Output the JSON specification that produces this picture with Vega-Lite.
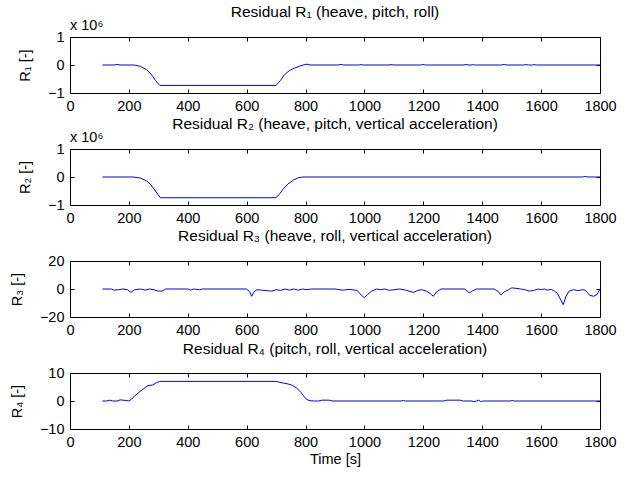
{
  "$schema": "https://vega.github.io/schema/vega-lite/v6.json",
  "padding": {"left": 8, "top": 4, "right": 5, "bottom": 5},
  "background": "white",
  "spacing": 56,
  "bounds": "flush",
  "config": {
    "font": "Liberation Sans",
    "view": {"stroke": "black", "strokeWidth": 1},
    "axis": {"grid": false, "domainColor": "black", "tickColor": "black", "labelColor": "black", "titleColor": "black", "labelFont": "Liberation Sans", "titleFont": "Liberation Sans", "labelFontSize": 14.5, "titleFontSize": 14.5, "titleFontWeight": "normal", "tickSize": -4, "domain": false},
    "title": {"font": "Liberation Sans", "fontSize": 15.5, "fontWeight": "normal", "color": "black", "anchor": "middle"},
    "text": {"font": "Liberation Sans", "fontSize": 14.5}
  },
  "datasets": {
    "r1": [
      {"t": 110, "v": 0}, {"t": 150, "v": 0}, {"t": 160, "v": 20000}, {"t": 170, "v": 0}, {"t": 218, "v": 0},
      {"t": 240, "v": -50000}, {"t": 260, "v": -170000}, {"t": 275, "v": -320000}, {"t": 290, "v": -550000}, {"t": 305, "v": -730000},
      {"t": 700, "v": -730000}, {"t": 715, "v": -550000}, {"t": 728, "v": -350000}, {"t": 745, "v": -200000}, {"t": 762, "v": -110000},
      {"t": 780, "v": -40000}, {"t": 795, "v": 10000}, {"t": 805, "v": 30000}, {"t": 815, "v": 0},
      {"t": 910, "v": 0}, {"t": 920, "v": 20000}, {"t": 930, "v": 0},
      {"t": 980, "v": 0}, {"t": 988, "v": 15000}, {"t": 996, "v": 0},
      {"t": 1080, "v": 0}, {"t": 1090, "v": 15000}, {"t": 1100, "v": 0},
      {"t": 1190, "v": 0}, {"t": 1198, "v": 20000}, {"t": 1208, "v": 0},
      {"t": 1335, "v": 0}, {"t": 1345, "v": 15000}, {"t": 1355, "v": 0},
      {"t": 1362, "v": 0}, {"t": 1368, "v": 15000}, {"t": 1375, "v": 0},
      {"t": 1465, "v": 0}, {"t": 1475, "v": 20000}, {"t": 1485, "v": 0},
      {"t": 1540, "v": 0}, {"t": 1549, "v": 15000}, {"t": 1558, "v": 0},
      {"t": 1570, "v": 0}, {"t": 1576, "v": 15000}, {"t": 1584, "v": 0},
      {"t": 1800, "v": 0}
    ],
    "r2": [
      {"t": 110, "v": 0}, {"t": 215, "v": 0}, {"t": 240, "v": -40000}, {"t": 260, "v": -140000}, {"t": 275, "v": -280000},
      {"t": 290, "v": -500000}, {"t": 307, "v": -740000}, {"t": 700, "v": -740000}, {"t": 712, "v": -600000}, {"t": 725, "v": -420000},
      {"t": 740, "v": -250000}, {"t": 760, "v": -100000}, {"t": 775, "v": -30000}, {"t": 790, "v": 0},
      {"t": 1740, "v": 0}, {"t": 1750, "v": 20000}, {"t": 1760, "v": 0}, {"t": 1800, "v": 0}
    ],
    "r3": [
      {"t": 110, "v": 0}, {"t": 140, "v": 0}, {"t": 150, "v": -0.8}, {"t": 165, "v": -0.5}, {"t": 180, "v": 0}, {"t": 195, "v": -0.5},
      {"t": 207, "v": -2.4}, {"t": 220, "v": -0.5}, {"t": 240, "v": 0}, {"t": 255, "v": -0.8}, {"t": 270, "v": 0}, {"t": 285, "v": -0.5},
      {"t": 300, "v": -1.5}, {"t": 312, "v": -1.5}, {"t": 325, "v": 0}, {"t": 400, "v": 0}, {"t": 410, "v": -0.8}, {"t": 420, "v": 0},
      {"t": 440, "v": -0.5}, {"t": 450, "v": 0}, {"t": 600, "v": 0}, {"t": 610, "v": -2}, {"t": 617, "v": -5.2}, {"t": 625, "v": -2},
      {"t": 635, "v": -0.5}, {"t": 650, "v": -0.8}, {"t": 670, "v": -1.2}, {"t": 685, "v": -1.5}, {"t": 700, "v": -0.5}, {"t": 715, "v": -1},
      {"t": 730, "v": 0}, {"t": 745, "v": -0.8}, {"t": 760, "v": 0}, {"t": 775, "v": -0.8}, {"t": 790, "v": 0}, {"t": 805, "v": -0.5},
      {"t": 820, "v": 0}, {"t": 900, "v": 0}, {"t": 925, "v": -0.8}, {"t": 950, "v": -0.3}, {"t": 975, "v": -1}, {"t": 990, "v": -4.5},
      {"t": 1000, "v": -6.2}, {"t": 1010, "v": -4}, {"t": 1025, "v": -1.5}, {"t": 1040, "v": 0}, {"t": 1055, "v": -0.5}, {"t": 1070, "v": 0},
      {"t": 1085, "v": -1}, {"t": 1100, "v": -0.5}, {"t": 1120, "v": 0}, {"t": 1140, "v": -0.8}, {"t": 1155, "v": -1.8}, {"t": 1168, "v": -2.4},
      {"t": 1180, "v": -1}, {"t": 1195, "v": -0.5}, {"t": 1210, "v": -1.5}, {"t": 1225, "v": -3.5}, {"t": 1234, "v": -5.2}, {"t": 1245, "v": -2},
      {"t": 1260, "v": 0}, {"t": 1340, "v": 0}, {"t": 1350, "v": -1.5}, {"t": 1356, "v": -2.9}, {"t": 1365, "v": -1.5}, {"t": 1380, "v": 0},
      {"t": 1440, "v": 0}, {"t": 1455, "v": -2}, {"t": 1464, "v": -4.3}, {"t": 1475, "v": -2}, {"t": 1490, "v": -0.5}, {"t": 1500, "v": 0.8},
      {"t": 1515, "v": 0.5}, {"t": 1530, "v": 0}, {"t": 1545, "v": -0.5}, {"t": 1560, "v": -1.5}, {"t": 1575, "v": -1}, {"t": 1590, "v": 0},
      {"t": 1600, "v": -0.5}, {"t": 1612, "v": 0}, {"t": 1620, "v": -0.8}, {"t": 1635, "v": -0.3}, {"t": 1645, "v": -1.5}, {"t": 1655, "v": -3},
      {"t": 1665, "v": -7}, {"t": 1675, "v": -11.2}, {"t": 1685, "v": -5}, {"t": 1695, "v": -1.5}, {"t": 1710, "v": -0.5}, {"t": 1725, "v": -1.2},
      {"t": 1740, "v": -0.5}, {"t": 1750, "v": -0.8}, {"t": 1765, "v": -4.5}, {"t": 1778, "v": -5.2}, {"t": 1790, "v": -4}, {"t": 1800, "v": 0}
    ],
    "r4": [
      {"t": 110, "v": 0}, {"t": 125, "v": 0}, {"t": 135, "v": 0.3}, {"t": 145, "v": 0}, {"t": 160, "v": 0}, {"t": 170, "v": 0.4},
      {"t": 180, "v": 0.3}, {"t": 190, "v": 0.2}, {"t": 200, "v": 0}, {"t": 210, "v": 0.8}, {"t": 220, "v": 1.8}, {"t": 235, "v": 3.2},
      {"t": 250, "v": 4.4}, {"t": 265, "v": 5.5}, {"t": 280, "v": 5.7}, {"t": 295, "v": 6.6}, {"t": 305, "v": 7},
      {"t": 700, "v": 7}, {"t": 720, "v": 6.5}, {"t": 740, "v": 6.1}, {"t": 755, "v": 5.6}, {"t": 770, "v": 4.6}, {"t": 785, "v": 3},
      {"t": 795, "v": 1.5}, {"t": 805, "v": 0.5}, {"t": 815, "v": 0.1}, {"t": 830, "v": 0}, {"t": 845, "v": 0}, {"t": 855, "v": 0.3},
      {"t": 880, "v": 0.3}, {"t": 890, "v": 0}, {"t": 1125, "v": 0}, {"t": 1132, "v": 0.2}, {"t": 1140, "v": 0}, {"t": 1270, "v": 0},
      {"t": 1280, "v": 0.3}, {"t": 1325, "v": 0.3}, {"t": 1335, "v": 0}, {"t": 1365, "v": 0}, {"t": 1372, "v": -0.3}, {"t": 1380, "v": 0},
      {"t": 1388, "v": 0.3}, {"t": 1395, "v": -0.2}, {"t": 1405, "v": 0}, {"t": 1495, "v": 0}, {"t": 1502, "v": 0.2}, {"t": 1510, "v": 0},
      {"t": 1800, "v": 0}
    ]
  },
  "vconcat": [
    {
      "width": 530, "height": 56,
      "title": {"text": "Residual R₁ (heave, pitch, roll)", "offset": -2},
      "layer": [
        {
          "data": {"name": "r1"},
          "mark": {"type": "line", "color": "#0000ff", "strokeWidth": 1},
          "encoding": {
            "x": {"field": "t", "type": "quantitative", "scale": {"domain": [0, 1800], "nice": false}, "axis": {"orient": "bottom", "values": [0, 200, 400, 600, 800, 1000, 1200, 1400, 1600, 1800], "format": "d", "title": null, "labelPadding": 10, "labelFlush": false}},
            "y": {"field": "v", "type": "quantitative", "scale": {"domain": [-1000000, 1000000], "nice": false, "zero": false}, "axis": {"orient": "left", "values": [-1000000, 0, 1000000], "labelExpr": "format(datum.value / 1000000, 'd')", "title": "R₁ [-]", "labelPadding": 10, "titlePadding": 15, "labelFlush": false}}
          }
        },
        {
          "data": {"name": "r1"},
          "mark": {"type": "line", "opacity": 0},
          "encoding": {
            "x": {"field": "t", "type": "quantitative", "axis": {"orient": "top", "values": [0, 200, 400, 600, 800, 1000, 1200, 1400, 1600, 1800], "labels": false, "title": null}},
            "y": {"field": "v", "type": "quantitative", "axis": {"orient": "right", "values": [-1000000, 0, 1000000], "labels": false, "title": null}}
          }
        },
        {
          "data": {"values": [{"lab": "x 10⁶"}]},
          "mark": {"type": "text", "align": "left", "baseline": "alphabetic", "dy": -7, "color": "black"},
          "encoding": {"x": {"datum": 0, "axis": null}, "y": {"datum": 1000000, "axis": null}, "text": {"field": "lab"}}
        }
      ],
      "resolve": {"axis": {"x": "independent", "y": "independent"}}
    },
    {
      "width": 530, "height": 56,
      "title": {"text": "Residual R₂ (heave, pitch, vertical acceleration)", "offset": -2},
      "layer": [
        {
          "data": {"name": "r2"},
          "mark": {"type": "line", "color": "#0000ff", "strokeWidth": 1},
          "encoding": {
            "x": {"field": "t", "type": "quantitative", "scale": {"domain": [0, 1800], "nice": false}, "axis": {"orient": "bottom", "values": [0, 200, 400, 600, 800, 1000, 1200, 1400, 1600, 1800], "format": "d", "title": null, "labelPadding": 10, "labelFlush": false}},
            "y": {"field": "v", "type": "quantitative", "scale": {"domain": [-1000000, 1000000], "nice": false, "zero": false}, "axis": {"orient": "left", "values": [-1000000, 0, 1000000], "labelExpr": "format(datum.value / 1000000, 'd')", "title": "R₂ [-]", "labelPadding": 10, "titlePadding": 15, "labelFlush": false}}
          }
        },
        {
          "data": {"name": "r2"},
          "mark": {"type": "line", "opacity": 0},
          "encoding": {
            "x": {"field": "t", "type": "quantitative", "axis": {"orient": "top", "values": [0, 200, 400, 600, 800, 1000, 1200, 1400, 1600, 1800], "labels": false, "title": null}},
            "y": {"field": "v", "type": "quantitative", "axis": {"orient": "right", "values": [-1000000, 0, 1000000], "labels": false, "title": null}}
          }
        },
        {
          "data": {"values": [{"lab": "x 10⁶"}]},
          "mark": {"type": "text", "align": "left", "baseline": "alphabetic", "dy": -7, "color": "black"},
          "encoding": {"x": {"datum": 0, "axis": null}, "y": {"datum": 1000000, "axis": null}, "text": {"field": "lab"}}
        }
      ],
      "resolve": {"axis": {"x": "independent", "y": "independent"}}
    },
    {
      "width": 530, "height": 56,
      "title": {"text": "Residual R₃ (heave, roll, vertical acceleration)", "offset": 9},
      "layer": [
        {
          "data": {"name": "r3"},
          "mark": {"type": "line", "color": "#0000ff", "strokeWidth": 1},
          "encoding": {
            "x": {"field": "t", "type": "quantitative", "scale": {"domain": [0, 1800], "nice": false}, "axis": {"orient": "bottom", "values": [0, 200, 400, 600, 800, 1000, 1200, 1400, 1600, 1800], "format": "d", "title": null, "labelPadding": 10, "labelFlush": false}},
            "y": {"field": "v", "type": "quantitative", "scale": {"domain": [-20, 20], "nice": false, "zero": false}, "axis": {"orient": "left", "values": [-20, 0, 20], "title": "R₃ [-]", "labelPadding": 10, "titlePadding": 15, "labelFlush": false}}
          }
        },
        {
          "data": {"name": "r3"},
          "mark": {"type": "line", "opacity": 0},
          "encoding": {
            "x": {"field": "t", "type": "quantitative", "axis": {"orient": "top", "values": [0, 200, 400, 600, 800, 1000, 1200, 1400, 1600, 1800], "labels": false, "title": null}},
            "y": {"field": "v", "type": "quantitative", "axis": {"orient": "right", "values": [-20, 0, 20], "labels": false, "title": null}}
          }
        }
      ],
      "resolve": {"axis": {"x": "independent", "y": "independent"}}
    },
    {
      "width": 530, "height": 56,
      "title": {"text": "Residual R₄ (pitch, roll, vertical acceleration)", "offset": 8},
      "layer": [
        {
          "data": {"name": "r4"},
          "mark": {"type": "line", "color": "#0000ff", "strokeWidth": 1},
          "encoding": {
            "x": {"field": "t", "type": "quantitative", "scale": {"domain": [0, 1800], "nice": false}, "axis": {"orient": "bottom", "values": [0, 200, 400, 600, 800, 1000, 1200, 1400, 1600, 1800], "format": "d", "title": "Time [s]", "titlePadding": 4, "labelPadding": 10, "labelFlush": false}},
            "y": {"field": "v", "type": "quantitative", "scale": {"domain": [-10, 10], "nice": false, "zero": false}, "axis": {"orient": "left", "values": [-10, 0, 10], "title": "R₄ [-]", "labelPadding": 10, "titlePadding": 15, "labelFlush": false}}
          }
        },
        {
          "data": {"name": "r4"},
          "mark": {"type": "line", "opacity": 0},
          "encoding": {
            "x": {"field": "t", "type": "quantitative", "axis": {"orient": "top", "values": [0, 200, 400, 600, 800, 1000, 1200, 1400, 1600, 1800], "labels": false, "title": null}},
            "y": {"field": "v", "type": "quantitative", "axis": {"orient": "right", "values": [-10, 0, 10], "labels": false, "title": null}}
          }
        }
      ],
      "resolve": {"axis": {"x": "independent", "y": "independent"}}
    }
  ]
}
